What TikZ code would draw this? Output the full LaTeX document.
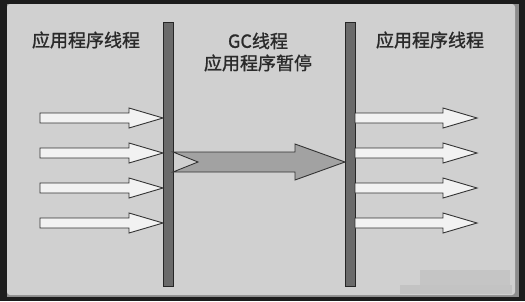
\documentclass[tikz,border=0pt]{standalone}
\usepackage{fontspec}
\usetikzlibrary{calc}
\newfontfamily\cjk[FakeBold=1.2]{Noto Sans CJK SC}
\definecolor{frame}{HTML}{1C1C1C}
\definecolor{panel}{HTML}{D0D0D0}
\definecolor{barfill}{HTML}{6A6A6A}
\definecolor{gcfill}{HTML}{A2A2A2}
\definecolor{hollowfill}{HTML}{F2F2F2}
\definecolor{ink}{HTML}{2A2A2A}
\begin{document}
\begin{tikzpicture}[x=1pt,y=-1pt,
  bar/.style={draw=black!85, line width=0.9pt, fill=barfill, minimum width=10pt,
    minimum height=264pt, inner sep=0pt, outer sep=0pt},
  hollow/.style={draw=black!80, line width=0.9pt, fill=hollowfill, line join=miter},
  gcarrow/.style={draw=black!80, line width=0.9pt, fill=gcfill, line join=miter},
  label/.style={font=\cjk\fontsize{18}{22}\selectfont, text=ink, inner sep=0pt, align=center}]
\useasboundingbox (0,0) rectangle (525,301);
% dark surround and light panel
\fill[frame] (0,0) rectangle (525,301);
\fill[black!45] (7,4) rectangle (519,297);
\fill[panel, rounded corners=3pt] (7,4) rectangle (515,295);
% soft patch near the lower right corner
\fill[black!30, opacity=0.35] (420,270) rectangle (510,285);
\fill[black!35, opacity=0.3] (400,285) rectangle (512,294);

% thread barriers
\node[bar] (lbar) at (168,154) {};
\node[bar] (rbar) at (350,154) {};

% labels
\node[label] (lt) at (86,40) {应用程序线程};
\node[label] (gc) at (258,52) {GC线程\\应用程序暂停};
\node[label] (rt) at (430,40) {应用程序线程};

% hollow block arrow: start x, tip x, centre y
\def\hollowarrow#1#2#3{%
  \draw[hollow] (#1,#3-5) -- (#2-34,#3-5) -- (#2-34,#3-10) -- (#2,#3)
    -- (#2-34,#3+10) -- (#2-34,#3+5) -- (#1,#3+5) -- cycle;}

% application threads running into the left barrier
\foreach \yy in {118,153,188,223}{
  \hollowarrow{40}{163}{\yy}
}
% application threads resuming after the right barrier
\foreach \yy in {118,153,188,223}{
  \hollowarrow{355}{477}{\yy}
}

% GC thread between the barriers
\coordinate (gcs) at (lbar.east |- 0,162);
\coordinate (gce) at (rbar.west |- 0,162);
\draw[gcarrow] ($(gcs)+(0,-10)$) -- (295,152) -- (295,144) -- (gce)
  -- (295,180) -- (295,172) -- ($(gcs)+(0,10)$) -- (198,162) -- cycle;
\end{tikzpicture}
\end{document}
